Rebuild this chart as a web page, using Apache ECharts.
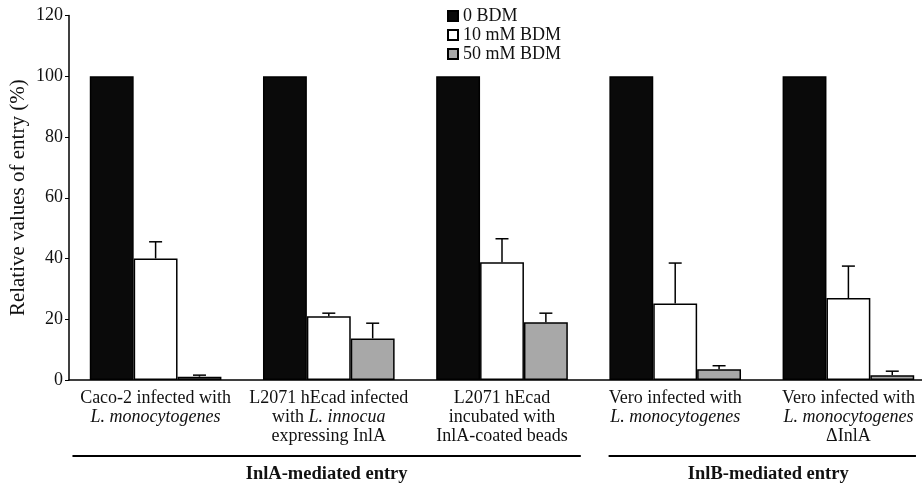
<!DOCTYPE html>
<html><head><meta charset="utf-8">
<script src="https://cdn.jsdelivr.net/npm/echarts@6/dist/echarts.min.js"></script>
<style>html,body{margin:0;padding:0;background:#fff}#c{width:922px;height:484px}</style>
</head><body><div id="c"></div>
<script>
const categories = [
  'Caco-2 infected with\n{i|L. monocytogenes}',
  'L2071 hEcad infected\nwith {i|L. innocua}\nexpressing InlA',
  'L2071 hEcad\nincubated with\nInlA-coated beads',
  'Vero infected with\n{i|L. monocytogenes}',
  'Vero infected with\n{i|L. monocytogenes}\nΔInlA'
];
const seriesNames = ['0 BDM', '10 mM BDM', '50 mM BDM'];
const values0 = [100, 100, 100, 100, 100];
const values10 = [40, 21, 38.8, 25.2, 27];
const values50 = [1.1, 13.7, 19, 3.5, 1.6];
const err10 = [5.5, 1, 7.7, 13.3, 10.5];
const err50 = [0.5, 5, 3, 1.2, 1.3];
const yTicks = [0, 20, 40, 60, 80, 100, 120];
const groupLabels = ['InlA-mediated entry', 'InlB-mediated entry'];
const groupSpans = [[0, 2], [3, 4]];

const FONT = 'Liberation Serif';
const FS = 18;
const GAP = 0.24;
const chart = echarts.init(document.getElementById('c'));

function errSeries(vals, errs, idx) {
  return {
    type: 'custom', silent: true, z: 5,
    renderItem: function (params, api) {
      const c = api.value(0), v = api.value(1), e = api.value(2);
      const base = api.coord([c, v]);
      const top = api.coord([c, v + e]);
      const band = api.size([1, 0])[0];
      const bw = band * (1 - GAP) / 3;
      const x = base[0] + (idx - 1) * bw;
      return { type: 'group', children: [
        { type: 'line', shape: { x1: x, y1: base[1], x2: x, y2: top[1] }, style: { stroke: '#000', lineWidth: 1.5 } },
        { type: 'line', shape: { x1: x - 6.5, y1: top[1], x2: x + 6.5, y2: top[1] }, style: { stroke: '#000', lineWidth: 1.5 } }
      ] };
    },
    data: vals.map((v, i) => [i, v, errs[i]])
  };
}

const colors = ['#0a0a0a', '#ffffff', '#a8a8a8'];
const allVals = [values0, values10, values50];

chart.setOption({
  animation: false,
  textStyle: { fontFamily: FONT, color: '#111' },
  grid: { left: 69, top: 15.5, bottom: 104, width: 866, outerBoundsMode: 'none', containLabel: false },
  legend: {
    data: seriesNames, orient: 'vertical', left: 442, top: 2,
    itemWidth: 10, itemHeight: 10, itemGap: 1, itemTextGap: 6,
    textStyle: { fontFamily: FONT, fontSize: FS, color: '#111', lineHeight: 16 },
    icon: 'rect'
  },
  xAxis: {
    type: 'category', data: categories,
    axisLine: { lineStyle: { color: '#000', width: 1.5 } },
    axisTick: { show: false },
    axisLabel: {
      interval: 0, margin: 9, fontFamily: FONT, fontSize: FS, color: '#111', lineHeight: 19,
      rich: { i: { fontStyle: 'italic', fontFamily: FONT, fontSize: FS, color: '#111', lineHeight: 19 } }
    }
  },
  yAxis: {
    type: 'value', min: 0, max: 120, interval: 20,
    name: 'Relative values of entry (%)', nameLocation: 'middle', nameGap: 40, nameMoveOverlap: false,
    nameTextStyle: { fontFamily: FONT, fontSize: 21, color: '#111' },
    axisLine: { show: true, lineStyle: { color: '#000', width: 1.5 } },
    axisTick: { show: true, length: 4, lineStyle: { color: '#000' } },
    splitLine: { show: false },
    axisLabel: { margin: 6, fontFamily: FONT, fontSize: FS, color: '#111',
      formatter: v => yTicks.includes(v) ? String(v) : '' }
  },
  series: [
    ...seriesNames.map((n, k) => ({
      name: n, type: 'bar', data: allVals[k], barGap: '0%', barCategoryGap: (GAP * 100) + '%',
      itemStyle: { color: colors[k], borderColor: '#000', borderWidth: 1.5 }
    })),
    errSeries(values10, err10, 1),
    errSeries(values50, err50, 2)
  ]
});

// group brackets below the category labels
const y0 = chart.convertToPixel({ yAxisIndex: 0 }, 0);
const centers = categories.map((c, i) => chart.convertToPixel({ xAxisIndex: 0 }, i));
const band = centers[1] - centers[0];
const lineY = y0 + 76;
const g = [];
const spanPx = [[centers[0] - 0.48 * band, centers[2] + 0.455 * band], [centers[3] - 0.5 * band + 20, centers[4] + 0.39 * band]];
groupSpans.forEach((s, k) => {
  const [a, b] = spanPx[k];
  g.push({ type: 'line', shape: { x1: a, y1: lineY, x2: b, y2: lineY }, style: { stroke: '#000', lineWidth: 2 } });
  g.push({ type: 'text', x: (a + b) / 2 + (k === 1 ? 6 : 0), y: lineY + 18,
    style: { text: groupLabels[k], font: 'bold 18.5px "' + FONT + '"', fill: '#111', textAlign: 'center', textVerticalAlign: 'middle' } });
});
chart.setOption({ graphic: g });
</script>
</body></html>
